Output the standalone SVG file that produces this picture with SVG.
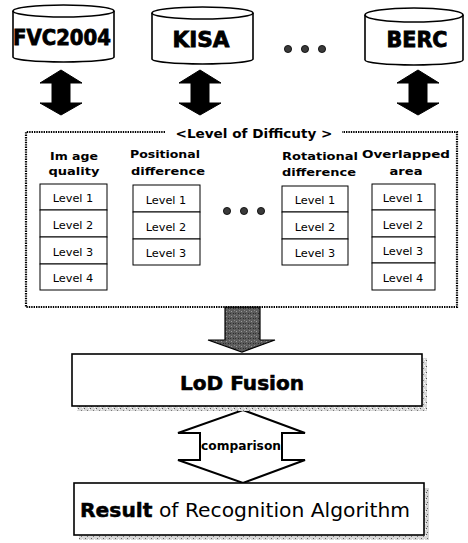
<svg xmlns="http://www.w3.org/2000/svg" width="468" height="543" viewBox="0 0 468 543">
<defs>
<style>
.cyl{fill:#fff;stroke:#000;stroke-width:1.6}
.cylt{font-family:"DejaVu Sans","Liberation Sans",sans-serif;font-weight:bold;font-size:21px;fill:#000;stroke:#000;stroke-width:0.8;text-anchor:middle}
.darr{fill:#000;stroke:#000;stroke-width:1}
.hdr{font-family:"DejaVu Sans","Liberation Sans",sans-serif;font-weight:bold;font-size:12.5px;fill:#000;text-anchor:middle}
.lvl rect{fill:#fff;stroke:#000;stroke-width:1}
.lvl text{font-family:"DejaVu Sans","Liberation Sans",sans-serif;font-size:11.3px;fill:#000;text-anchor:middle}
.dot{fill:#3a3a3a;stroke:#000;stroke-width:0.8}
.dotted{fill:none;stroke:#000;stroke-width:2.2;stroke-dasharray:1.4 1}
.box{fill:#fff;stroke:#000;stroke-width:1.6}
.big{font-family:"DejaVu Sans","Liberation Sans",sans-serif;font-size:20px;fill:#000}
</style>
<pattern id="noise" width="6" height="6" patternUnits="userSpaceOnUse">
<rect width="6" height="6" fill="#d8d8d8"/>
<rect x="0" y="0" width="1" height="1" fill="#555"/>
<rect x="3" y="2" width="1" height="1" fill="#777"/>
<rect x="1" y="4" width="1" height="1" fill="#666"/>
<rect x="4" y="5" width="1" height="1" fill="#fff"/>
<rect x="5" y="1" width="1" height="1" fill="#fff"/>
</pattern>
<pattern id="grain" width="5" height="5" patternUnits="userSpaceOnUse">
<rect width="5" height="5" fill="#5c5c5c"/>
<rect x="1" y="1" width="1" height="1" fill="#9a9a9a"/>
<rect x="3" y="3" width="1" height="1" fill="#2a2a2a"/>
<rect x="4" y="0" width="1" height="1" fill="#888"/>
<rect x="0" y="3" width="1" height="1" fill="#333"/>
</pattern>
</defs>

<g id="db-fvc2004">
<path class="cyl" d="M13,11 A50.5,6 0 0 1 114,11 L114,57 A50.5,5 0 0 1 13,57 Z"/>
<path class="cyl" d="M13,11 A50.5,6 0 0 0 114,11"/>
<text class="cylt" x="62" y="45" textLength="98" lengthAdjust="spacingAndGlyphs">FVC2004</text>
</g>
<g id="db-kisa">
<path class="cyl" d="M152,13 A50.5,6 0 0 1 253,13 L253,59 A50.5,5 0 0 1 152,59 Z"/>
<path class="cyl" d="M152,13 A50.5,6 0 0 0 253,13"/>
<text class="cylt" x="201" y="47" textLength="57" lengthAdjust="spacingAndGlyphs">KISA</text>
</g>
<g id="db-dots">
<circle class="dot" cx="288" cy="49" r="3.6"/>
<circle class="dot" cx="305" cy="49" r="3.6"/>
<circle class="dot" cx="322" cy="49" r="3.6"/>
</g>
<g id="db-berc">
<path class="cyl" d="M365,15 A49,7 0 0 1 463,15 L463,60 A49,5 0 0 1 365,60 Z"/>
<path class="cyl" d="M365,15 A49,7 0 0 0 463,15"/>
<text class="cylt" x="417" y="47" textLength="61" lengthAdjust="spacingAndGlyphs">BERC</text>
</g>

<g id="connectors">
<polygon class="darr" points="61,70 82,83 70,83 70,103 82,103 61,115 40,103 52,103 52,83 40,83"/>
<polygon class="darr" points="200,70 221,83 209,83 209,103 221,103 200,115 179,103 191,103 191,83 179,83"/>
<polygon class="darr" points="418,70 439,83 427,83 427,103 439,103 418,115 397,103 409,103 409,83 397,83"/>
<polygon points="225,307 260,307 260,340 275,340 242,352 208,340 225,340" fill="url(#grain)" stroke="#000" stroke-width="1.2"/>
<polygon points="243,410 305,433 282,433 282,460 305,460 243,483 178,460 200,460 200,433 178,433" fill="#fff" stroke="#000" stroke-width="2"/>
<text x="241" y="450" font-family="DejaVu Sans, Liberation Sans, sans-serif" font-weight="bold" font-size="11.5" text-anchor="middle" textLength="80" lengthAdjust="spacingAndGlyphs">comparison</text>
</g>

<g id="lod-group">
<path class="dotted" d="M165,132 L26,132 L26,307 L457,307 L457,132 L342,132"/>
<text class="hdr" x="254" y="138" textLength="157" lengthAdjust="spacingAndGlyphs">&lt;Level of Difficuty &gt;</text>
</g>

<g id="col-image-quality" class="lvl">
<text class="hdr" x="74" y="160" textLength="48" lengthAdjust="spacingAndGlyphs">Im age</text>
<text class="hdr" x="74" y="175" textLength="51" lengthAdjust="spacingAndGlyphs">quality</text>
<rect x="40" y="184" width="67" height="26"/><text x="73" y="202">Level 1</text>
<rect x="40" y="210" width="67" height="27"/><text x="73" y="229">Level 2</text>
<rect x="40" y="237" width="67" height="27"/><text x="73" y="256">Level 3</text>
<rect x="40" y="264" width="67" height="26"/><text x="73" y="282">Level 4</text>
</g>
<g id="col-positional" class="lvl">
<text class="hdr" x="165" y="158" textLength="70" lengthAdjust="spacingAndGlyphs">Positional</text>
<text class="hdr" x="168" y="175" textLength="74" lengthAdjust="spacingAndGlyphs">difference</text>
<rect x="133" y="185" width="67" height="27"/><text x="166" y="204">Level 1</text>
<rect x="133" y="212" width="67" height="27"/><text x="166" y="231">Level 2</text>
<rect x="133" y="239" width="67" height="26"/><text x="166" y="257">Level 3</text>
</g>
<g id="col-dots">
<circle class="dot" cx="227" cy="211" r="3.6"/>
<circle class="dot" cx="244" cy="211" r="3.6"/>
<circle class="dot" cx="261" cy="211" r="3.6"/>
</g>
<g id="col-rotational" class="lvl">
<text class="hdr" x="320" y="160" textLength="76" lengthAdjust="spacingAndGlyphs">Rotational</text>
<text class="hdr" x="319" y="176" textLength="74" lengthAdjust="spacingAndGlyphs">difference</text>
<rect x="282" y="186" width="66" height="26"/><text x="315" y="204">Level 1</text>
<rect x="282" y="212" width="66" height="27"/><text x="315" y="231">Level 2</text>
<rect x="282" y="239" width="66" height="26"/><text x="315" y="257">Level 3</text>
</g>
<g id="col-overlapped" class="lvl">
<text class="hdr" x="406" y="158" textLength="88" lengthAdjust="spacingAndGlyphs">Overlapped</text>
<text class="hdr" x="406" y="175" textLength="33" lengthAdjust="spacingAndGlyphs">area</text>
<rect x="372" y="184" width="63" height="26"/><text x="403" y="202">Level 1</text>
<rect x="372" y="210" width="63" height="27"/><text x="403" y="229">Level 2</text>
<rect x="372" y="237" width="63" height="26"/><text x="403" y="255">Level 3</text>
<rect x="372" y="263" width="63" height="27"/><text x="403" y="282">Level 4</text>
</g>

<g id="lod-fusion">
<rect x="77" y="358" width="350" height="53" fill="url(#noise)"/>
<rect class="box" x="72" y="354" width="350" height="52"/>
<text class="big" x="242" y="390" font-weight="bold" text-anchor="middle" textLength="124" lengthAdjust="spacingAndGlyphs" stroke="#000" stroke-width="0.6">LoD Fusion</text>
</g>

<g id="result">
<rect x="79" y="488" width="350" height="52" fill="url(#noise)"/>
<rect class="box" x="74" y="483" width="350" height="52"/>
<text class="big" x="80" y="517" textLength="330" lengthAdjust="spacingAndGlyphs"><tspan font-weight="bold" stroke="#000" stroke-width="0.5">Result</tspan> of Recognition Algorithm</text>
</g>
</svg>
